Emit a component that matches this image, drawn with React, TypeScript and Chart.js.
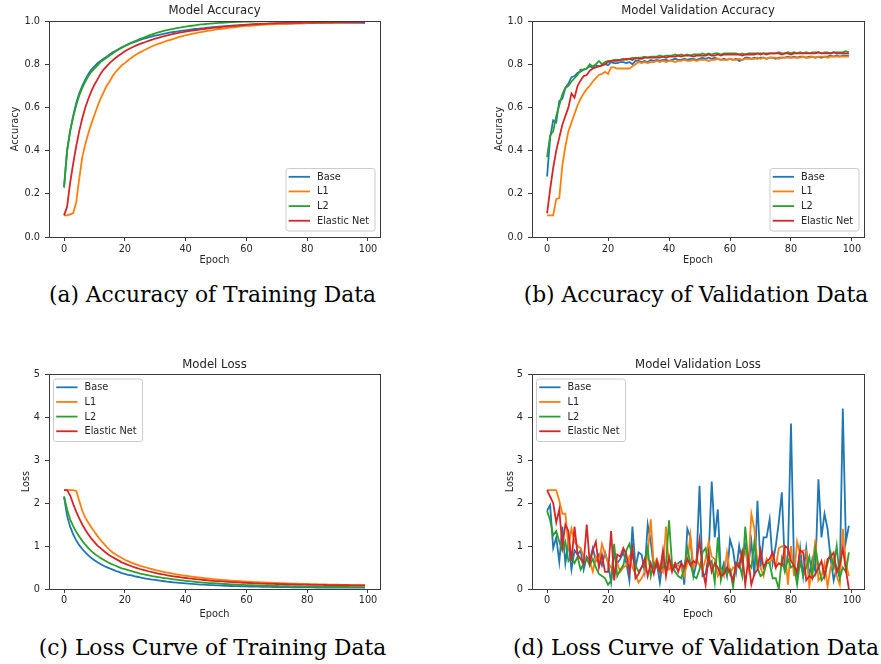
import React, { useEffect, useRef } from "react";
import { Chart, registerables } from "chart.js";

Chart.register(...registerables);

// ---------------- DATA ----------------
const epochs = Array.from({ length: 100 }, (_, i) => i);
const seriesNames = ["Base", "L1", "L2", "Elastic Net"];
const seriesColors = ["#1f77b4", "#ff7f0e", "#2ca02c", "#d62728"];
const xTicks = [0, 20, 40, 60, 80, 100];
const accTicks = [0, 0.2, 0.4, 0.6, 0.8, 1.0];
const lossTicks = [0, 1, 2, 3, 4, 5];
const xMin = -4.95;
const xMax = 103.95;

const trainAccBase = [
  0.23, 0.40, 0.49, 0.56, 0.62, 0.665, 0.70, 0.73, 0.755, 0.775,
  0.79, 0.805, 0.815, 0.825, 0.835, 0.845, 0.855, 0.862, 0.87, 0.878,
  0.885, 0.89, 0.897, 0.902, 0.907, 0.912, 0.917, 0.921, 0.925, 0.929,
  0.932, 0.935, 0.938, 0.941, 0.944, 0.947, 0.949, 0.951, 0.953, 0.955,
  0.957, 0.959, 0.961, 0.963, 0.964, 0.966, 0.967, 0.969, 0.970, 0.972,
  0.973, 0.974, 0.975, 0.976, 0.977, 0.978, 0.979, 0.980, 0.981, 0.982,
  0.983, 0.983, 0.984, 0.985, 0.985, 0.986, 0.986, 0.987, 0.987, 0.988,
  0.988, 0.988, 0.988, 0.987, 0.988, 0.988, 0.989, 0.989, 0.989, 0.989,
  0.990, 0.990, 0.990, 0.990, 0.990, 0.990, 0.991, 0.991, 0.991, 0.991,
  0.991, 0.991, 0.991, 0.991, 0.992, 0.992, 0.992, 0.992, 0.991, 0.990,
];
const trainAccL1 = [
  0.10, 0.10, 0.105, 0.11, 0.16, 0.27, 0.37, 0.43, 0.48, 0.525,
  0.565, 0.605, 0.64, 0.67, 0.70, 0.72, 0.745, 0.765, 0.78, 0.795,
  0.805, 0.817, 0.828, 0.838, 0.847, 0.855, 0.862, 0.869, 0.876, 0.883,
  0.889, 0.894, 0.899, 0.904, 0.909, 0.913, 0.917, 0.922, 0.926, 0.93,
  0.934, 0.937, 0.940, 0.943, 0.946, 0.949, 0.951, 0.954, 0.956, 0.958,
  0.961, 0.963, 0.964, 0.966, 0.968, 0.970, 0.971, 0.973, 0.974, 0.976,
  0.977, 0.978, 0.979, 0.980, 0.981, 0.982, 0.983, 0.984, 0.985, 0.985,
  0.986, 0.987, 0.987, 0.988, 0.988, 0.989, 0.989, 0.989, 0.990, 0.990,
  0.990, 0.991, 0.991, 0.991, 0.992, 0.992, 0.992, 0.992, 0.993, 0.993,
  0.993, 0.993, 0.993, 0.994, 0.994, 0.994, 0.994, 0.994, 0.995, 0.995,
];
const trainAccL2 = [
  0.23, 0.40, 0.49, 0.555, 0.61, 0.655, 0.69, 0.72, 0.745, 0.765,
  0.78, 0.795, 0.81, 0.82, 0.83, 0.84, 0.85, 0.86, 0.868, 0.876,
  0.884, 0.892, 0.899, 0.905, 0.911, 0.917, 0.922, 0.928, 0.933, 0.938,
  0.943, 0.947, 0.951, 0.955, 0.958, 0.961, 0.964, 0.967, 0.969, 0.972,
  0.974, 0.976, 0.978, 0.980, 0.982, 0.984, 0.985, 0.987, 0.988, 0.989,
  0.990, 0.991, 0.992, 0.993, 0.994, 0.995, 0.995, 0.996, 0.996, 0.997,
  0.997, 0.997, 0.997, 0.998, 0.998, 0.998, 0.998, 0.998, 0.998, 0.998,
  0.998, 0.998, 0.999, 0.999, 0.999, 0.999, 0.999, 0.999, 0.999, 0.999,
  0.999, 0.999, 0.999, 0.999, 0.999, 0.999, 0.999, 0.999, 0.999, 0.999,
  0.999, 0.999, 0.999, 0.999, 0.999, 0.999, 0.999, 0.999, 0.999, 0.999,
];
const trainAccEN = [
  0.10, 0.14, 0.25, 0.34, 0.42, 0.49, 0.55, 0.60, 0.64, 0.675,
  0.705, 0.73, 0.755, 0.775, 0.79, 0.805, 0.818, 0.83, 0.84, 0.85,
  0.86, 0.868, 0.875, 0.882, 0.888, 0.894, 0.899, 0.904, 0.909, 0.914,
  0.918, 0.922, 0.926, 0.93, 0.933, 0.937, 0.94, 0.943, 0.946, 0.948,
  0.951, 0.953, 0.955, 0.957, 0.959, 0.961, 0.963, 0.965, 0.967, 0.968,
  0.970, 0.971, 0.973, 0.974, 0.975, 0.977, 0.978, 0.979, 0.980, 0.981,
  0.982, 0.983, 0.984, 0.985, 0.986, 0.987, 0.987, 0.988, 0.989, 0.989,
  0.990, 0.990, 0.991, 0.991, 0.991, 0.992, 0.992, 0.992, 0.992, 0.993,
  0.993, 0.993, 0.993, 0.994, 0.994, 0.994, 0.994, 0.994, 0.994, 0.995,
  0.995, 0.995, 0.995, 0.995, 0.995, 0.995, 0.995, 0.995, 0.995, 0.995,
];

const valAccBase = [
  0.28, 0.46, 0.54, 0.53, 0.63, 0.64, 0.69, 0.71, 0.74, 0.745,
  0.76, 0.765, 0.775, 0.78, 0.79, 0.785, 0.795, 0.79, 0.795, 0.80,
  0.795, 0.81, 0.805, 0.805, 0.81, 0.81, 0.805, 0.81, 0.80, 0.815,
  0.815, 0.81, 0.815, 0.81, 0.82, 0.815, 0.82, 0.815, 0.82, 0.82,
  0.815, 0.82, 0.825, 0.82, 0.82, 0.825, 0.82, 0.825, 0.825, 0.82,
  0.825, 0.83, 0.825, 0.83, 0.825, 0.83, 0.825, 0.82, 0.825, 0.82,
  0.825, 0.82, 0.825, 0.815, 0.82, 0.83, 0.83, 0.825, 0.83, 0.825,
  0.83, 0.83, 0.825, 0.83, 0.83, 0.825, 0.83, 0.83, 0.83, 0.835,
  0.83, 0.835, 0.83, 0.835, 0.835, 0.83, 0.835, 0.835, 0.83, 0.835,
  0.83, 0.835, 0.835, 0.84, 0.835, 0.84, 0.835, 0.84, 0.84, 0.84,
];
const valAccL1 = [
  0.10, 0.10, 0.10, 0.175, 0.18, 0.33, 0.42, 0.49, 0.53, 0.57,
  0.61, 0.64, 0.665, 0.685, 0.70, 0.72, 0.735, 0.75, 0.755, 0.765,
  0.755, 0.785, 0.785, 0.78, 0.78, 0.78, 0.78, 0.78, 0.79, 0.80,
  0.81, 0.805, 0.81, 0.805, 0.81, 0.81, 0.815, 0.81, 0.815, 0.81,
  0.815, 0.815, 0.81, 0.815, 0.815, 0.82, 0.815, 0.815, 0.82, 0.815,
  0.82, 0.82, 0.82, 0.815, 0.82, 0.82, 0.825, 0.82, 0.82, 0.82,
  0.825, 0.82, 0.82, 0.825, 0.82, 0.825, 0.825, 0.825, 0.825, 0.83,
  0.825, 0.83, 0.825, 0.83, 0.83, 0.83, 0.825, 0.83, 0.83, 0.83,
  0.83, 0.83, 0.83, 0.83, 0.835, 0.83, 0.83, 0.835, 0.83, 0.835,
  0.835, 0.835, 0.83, 0.835, 0.835, 0.835, 0.835, 0.835, 0.835, 0.835,
];
const valAccL2 = [
  0.37, 0.47, 0.49, 0.56, 0.61, 0.66, 0.69, 0.70, 0.72, 0.735,
  0.75, 0.775, 0.775, 0.78, 0.80, 0.79, 0.80, 0.815, 0.80, 0.81,
  0.815, 0.815, 0.82, 0.82, 0.82, 0.825, 0.82, 0.825, 0.83, 0.825,
  0.83, 0.83, 0.835, 0.83, 0.835, 0.835, 0.835, 0.84, 0.835, 0.84,
  0.84, 0.84, 0.845, 0.84, 0.845, 0.84, 0.845, 0.84, 0.845, 0.845,
  0.845, 0.85, 0.845, 0.85, 0.845, 0.85, 0.85, 0.845, 0.85, 0.85,
  0.85, 0.85, 0.85, 0.845, 0.85, 0.845, 0.85, 0.85, 0.85, 0.85,
  0.85, 0.85, 0.85, 0.85, 0.85, 0.85, 0.855, 0.85, 0.85, 0.855,
  0.85, 0.855, 0.85, 0.855, 0.85, 0.855, 0.85, 0.855, 0.855, 0.855,
  0.85, 0.855, 0.855, 0.85, 0.855, 0.855, 0.855, 0.855, 0.86, 0.855,
];
const valAccEN = [
  0.11, 0.22, 0.32, 0.40, 0.46, 0.52, 0.56, 0.60, 0.665, 0.645,
  0.70, 0.725, 0.745, 0.75, 0.77, 0.78, 0.785, 0.79, 0.795, 0.80,
  0.81, 0.815, 0.815, 0.815, 0.82, 0.82, 0.825, 0.825, 0.82, 0.83,
  0.825, 0.825, 0.83, 0.83, 0.83, 0.83, 0.83, 0.83, 0.835, 0.83,
  0.835, 0.835, 0.835, 0.84, 0.835, 0.84, 0.84, 0.84, 0.835, 0.84,
  0.84, 0.84, 0.84, 0.845, 0.84, 0.84, 0.845, 0.84, 0.845, 0.845,
  0.845, 0.845, 0.845, 0.845, 0.84, 0.845, 0.845, 0.845, 0.845, 0.85,
  0.845, 0.85, 0.845, 0.85, 0.85, 0.85, 0.85, 0.845, 0.85, 0.85,
  0.845, 0.85, 0.85, 0.85, 0.85, 0.85, 0.85, 0.85, 0.85, 0.855,
  0.85, 0.85, 0.85, 0.85, 0.855, 0.85, 0.85, 0.85, 0.85, 0.85,
];

const trainLossBase = [
  2.15, 1.70, 1.45, 1.27, 1.13, 1.02, 0.93, 0.85, 0.78, 0.72,
  0.67, 0.62, 0.58, 0.54, 0.51, 0.48, 0.45, 0.42, 0.40, 0.37,
  0.35, 0.33, 0.32, 0.30, 0.285, 0.27, 0.255, 0.24, 0.23, 0.22,
  0.21, 0.20, 0.19, 0.18, 0.17, 0.163, 0.156, 0.149, 0.142, 0.136,
  0.13, 0.124, 0.119, 0.114, 0.109, 0.104, 0.10, 0.096, 0.092, 0.088,
  0.085, 0.082, 0.079, 0.076, 0.073, 0.07, 0.068, 0.066, 0.064, 0.062,
  0.06, 0.058, 0.056, 0.055, 0.053, 0.052, 0.05, 0.049, 0.048, 0.047,
  0.046, 0.045, 0.044, 0.043, 0.042, 0.041, 0.04, 0.039, 0.039, 0.038,
  0.037, 0.037, 0.036, 0.035, 0.035, 0.034, 0.034, 0.033, 0.033, 0.032,
  0.032, 0.032, 0.031, 0.031, 0.031, 0.030, 0.030, 0.030, 0.030, 0.030,
];
const trainLossL1 = [
  2.30, 2.30, 2.30, 2.30, 2.28, 2.05, 1.82, 1.66, 1.54, 1.43,
  1.33, 1.23, 1.14, 1.06, 0.98, 0.91, 0.85, 0.80, 0.76, 0.72,
  0.68, 0.65, 0.62, 0.59, 0.565, 0.54, 0.52, 0.50, 0.48, 0.46,
  0.44, 0.425, 0.41, 0.395, 0.38, 0.367, 0.354, 0.342, 0.33, 0.319,
  0.308, 0.298, 0.288, 0.279, 0.27, 0.262, 0.254, 0.246, 0.239, 0.232,
  0.225, 0.219, 0.213, 0.207, 0.201, 0.196, 0.191, 0.186, 0.181, 0.177,
  0.173, 0.169, 0.165, 0.161, 0.158, 0.154, 0.151, 0.148, 0.145, 0.142,
  0.139, 0.136, 0.134, 0.131, 0.129, 0.126, 0.124, 0.122, 0.12, 0.118,
  0.116, 0.114, 0.112, 0.11, 0.108, 0.107, 0.105, 0.103, 0.102, 0.10,
  0.099, 0.097, 0.096, 0.094, 0.093, 0.092, 0.09, 0.089, 0.088, 0.087,
];
const trainLossL2 = [
  2.15, 1.85, 1.62, 1.46, 1.33, 1.22, 1.12, 1.03, 0.95, 0.88,
  0.82, 0.77, 0.72, 0.68, 0.64, 0.60, 0.57, 0.54, 0.51, 0.48,
  0.46, 0.44, 0.42, 0.40, 0.38, 0.36, 0.345, 0.33, 0.315, 0.30,
  0.29, 0.278, 0.266, 0.255, 0.245, 0.235, 0.225, 0.216, 0.207, 0.199,
  0.191, 0.183, 0.176, 0.169, 0.162, 0.156, 0.15, 0.144, 0.139, 0.134,
  0.129, 0.124, 0.12, 0.116, 0.112, 0.108, 0.104, 0.101, 0.098, 0.095,
  0.092, 0.089, 0.087, 0.084, 0.082, 0.08, 0.078, 0.076, 0.074, 0.072,
  0.07, 0.068, 0.067, 0.065, 0.064, 0.062, 0.061, 0.06, 0.058, 0.057,
  0.056, 0.055, 0.054, 0.053, 0.052, 0.051, 0.05, 0.05, 0.049, 0.048,
  0.048, 0.047, 0.046, 0.046, 0.045, 0.045, 0.044, 0.044, 0.043, 0.043,
];
const trainLossEN = [
  2.30, 2.30, 2.18, 1.98, 1.80, 1.64, 1.50, 1.38, 1.27, 1.17,
  1.09, 1.01, 0.95, 0.89, 0.83, 0.78, 0.74, 0.70, 0.66, 0.62,
  0.59, 0.56, 0.535, 0.51, 0.487, 0.465, 0.445, 0.425, 0.407, 0.39,
  0.374, 0.359, 0.345, 0.332, 0.319, 0.307, 0.296, 0.285, 0.275, 0.265,
  0.256, 0.247, 0.239, 0.231, 0.223, 0.216, 0.209, 0.203, 0.197, 0.191,
  0.185, 0.18, 0.175, 0.17, 0.165, 0.161, 0.157, 0.153, 0.149, 0.145,
  0.142, 0.139, 0.136, 0.133, 0.13, 0.127, 0.125, 0.122, 0.12, 0.118,
  0.116, 0.114, 0.112, 0.11, 0.108, 0.107, 0.105, 0.104, 0.102, 0.101,
  0.099, 0.098, 0.097, 0.096, 0.095, 0.094, 0.093, 0.092, 0.091, 0.09,
  0.089, 0.088, 0.087, 0.087, 0.086, 0.085, 0.085, 0.084, 0.083, 0.083,
];

const valLossBase = [
  1.82, 1.95, 0.95, 1.2, 0.63, 1.45, 0.6, 1.1, 0.45, 0.9,
  0.8, 0.9, 0.45, 0.75, 0.65, 0.95, 0.65, 0.8, 0.55, 0.85,
  0.6, 0.15, 0.8, 0.6, 0.7, 0.85, 0.6, 0.2, 1.45, 0.5,
  0.85, 0.8, 0.4, 1.5, 1.1, 0.5, 0.6, 0.15, 0.7, 0.45,
  0.7, 0.55, 0.5, 0.6, 0.65, 0.1, 1.4, 1.2, 0.3, 0.6,
  2.4, 0.3, 0.35, 0.8, 2.5, 1.2, 1.85, 0.35, 0.6, 0.3,
  1.15, 0.9, 0.4, 1.0, 0.6, 1.0, 0.55, 1.1, 0.3, 2.05,
  0.5, 1.2, 1.2, 1.62, 0.6, 1.0, 1.55, 2.25, 0.5, 0.8,
  3.85, 0.5, 0.3, 0.95, 0.3, 0.95, 0.3, 0.7, 0.4, 2.55,
  1.2, 1.75, 1.4, 0.7, 0.2, 0.5, 0.25, 4.2, 1.1, 1.47,
];
const valLossL1 = [
  2.3, 2.3, 2.3, 2.3, 2.05, 1.75, 1.75, 1.0, 1.4, 1.1,
  1.0, 0.95, 0.75, 0.7, 0.65, 0.4, 0.75, 0.6, 1.05, 0.8,
  0.6, 0.5, 0.4, 0.6, 0.4, 0.5, 0.55, 0.75, 0.5, 0.35,
  0.15, 0.25, 0.4, 0.8, 1.62, 0.55, 0.7, 0.5, 0.4, 1.45,
  0.45, 0.5, 0.6, 0.55, 0.5, 0.3, 0.6, 1.25, 0.5, 0.7,
  0.55, 0.45, 0.7, 1.1, 0.75, 0.7, 0.3, 0.45, 0.3, 0.85,
  0.35, 0.5, 0.5, 0.6, 0.9, 0.9, 0.5, 1.75, 1.4, 0.6,
  0.5, 0.3, 0.7, 0.6, 0.75, 0.5, 0.95, 1.0, 0.95, 0.1,
  1.0, 0.3, 1.1, 0.8, 0.9, 0.9, 0.05, 0.5, 1.15, 0.2,
  0.3, 0.6, 0.05, 0.5, 0.7, 0.3, 0.1, 1.4, 0.6, 0.3,
];
const valLossL2 = [
  1.82, 1.6, 1.25, 1.35, 1.1, 0.9, 1.1, 0.65, 0.75, 0.6,
  0.75, 0.45, 0.6, 0.7, 0.55, 0.7, 0.5, 0.35, 0.3, 0.25,
  0.1, 0.2, 1.05, 0.3, 0.45, 0.55, 0.9, 1.05, 0.75, 0.55,
  0.4, 0.5, 0.6, 0.95, 0.3, 0.6, 0.5, 0.45, 0.5, 0.6,
  1.6, 0.55, 0.4, 0.3, 0.25, 0.5, 0.95, 0.6, 0.3, 0.25,
  0.45, 0.85, 0.95, 0.55, 0.65, 0.15, 1.2, 0.2, 0.5, 0.35,
  0.45, 0.05, 0.6, 0.6, 0.3, 1.45, 0.6, 0.5, 1.1, 0.5,
  0.3, 0.35, 0.6, 0.6, 0.25, 0.25, 0.0, 0.7, 0.4, 0.7,
  0.5, 0.55, 0.1, 0.65, 0.3, 0.5, 0.75, 0.3, 0.95, 0.55,
  0.2, 0.3, 0.6, 0.85, 0.5, 1.0, 0.25, 0.5, 0.4, 0.85,
];
const valLossEN = [
  2.3, 2.15, 2.0, 1.55, 1.85, 1.0, 1.5, 1.35, 0.65, 1.45,
  0.8, 0.7, 0.6, 1.5, 0.6, 0.9, 1.1, 0.5, 0.8, 0.4,
  0.4, 1.35, 0.2, 0.8, 0.75, 0.95, 0.8, 0.4, 0.95, 0.25,
  0.35, 0.5, 0.7, 0.3, 0.6, 0.35, 0.65, 0.4, 0.9, 0.3,
  0.75, 0.4, 0.6, 0.4, 0.6, 0.5, 0.7, 0.55, 0.65, 0.6,
  1.15, 0.45, 0.1, 0.8, 0.4, 0.6, 0.5, 0.3, 0.35, 0.5,
  0.4, 0.2, 0.6, 0.5, 0.85, 0.1, 0.7, 0.1, 0.35, 0.45,
  0.9, 0.5, 0.65, 0.7, 0.85, 0.5, 0.6, 0.55, 1.0, 0.95,
  0.65, 0.55, 0.4, 0.9, 0.85, 0.2, 0.3, 0.25, 0.35, 0.5,
  0.65, 0.3, 0.7, 0.75, 0.85, 0.4, 0.55, 0.95, 0.45, 0.0,
];

// ---------------- STYLE / LAYOUT ----------------
const FONT = '"DejaVu Sans", sans-serif';
const TEXT = "#262626";
const AXIS = "#3a3a3a";

type Area = { left: number; right: number; top: number; bottom: number };
type PanelSpec = {
  left: number; top: number; width: number; height: number;
  area: Area;
  title: string; yLabel: string;
  series: number[][];
  yMin: number; yMax: number; yTicks: number[]; yDecimals: number;
  legend: "lr" | "ul";
  titlePad: [number, number];
  yTitlePad: number; xTitlePad: number; xTickPad: number;
};

const panels: PanelSpec[] = [
  {
    left: 0, top: 0, width: 440, height: 280,
    area: { left: 49, right: 380, top: 21, bottom: 237 },
    title: "Model Accuracy", yLabel: "Accuracy",
    series: [trainAccBase, trainAccL1, trainAccL2, trainAccEN],
    yMin: 0, yMax: 1, yTicks: accTicks, yDecimals: 1, legend: "lr",
    titlePad: [3.7, 3.26], yTitlePad: 9.9, xTitlePad: 13.3, xTickPad: 2.4,
  },
  {
    left: 440, top: 0, width: 441, height: 280,
    area: { left: 92, right: 424, top: 21, bottom: 237 },
    title: "Model Validation Accuracy", yLabel: "Accuracy",
    series: [valAccBase, valAccL1, valAccL2, valAccEN],
    yMin: 0, yMax: 1, yTicks: accTicks, yDecimals: 1, legend: "lr",
    titlePad: [3.7, 3.26], yTitlePad: 53.7, xTitlePad: 13.3, xTickPad: 2.4,
  },
  {
    left: 0, top: 350, width: 440, height: 280,
    area: { left: 49, right: 380, top: 24, bottom: 239 },
    title: "Model Loss", yLabel: "Loss",
    series: [trainLossBase, trainLossL1, trainLossL2, trainLossEN],
    yMin: 0, yMax: 5, yTicks: lossTicks, yDecimals: 0, legend: "ul",
    titlePad: [7.7, 2.26], yTitlePad: 21.0, xTitlePad: 10.0, xTickPad: 1.4,
  },
  {
    left: 440, top: 350, width: 441, height: 280,
    area: { left: 92, right: 424, top: 24, bottom: 239 },
    title: "Model Validation Loss", yLabel: "Loss",
    series: [valLossBase, valLossL1, valLossL2, valLossEN],
    yMin: 0, yMax: 5, yTicks: lossTicks, yDecimals: 0, legend: "ul",
    titlePad: [7.7, 2.26], yTitlePad: 65.0, xTitlePad: 10.0, xTickPad: 1.4,
  },
];

const captions = [
  { text: "(a) Accuracy of Training Data", cx: 212.5, cy: 295 },
  { text: "(b) Accuracy of Validation Data", cx: 696, cy: 295 },
  { text: "(c) Loss Curve of Training Data", cx: 212.5, cy: 648 },
  { text: "(d) Loss Curve of Validation Data", cx: 696, cy: 648 },
];

const align = (p: number) => Math.round(p - 0.5) + 0.5;

function frameLegendPlugin(pos: "lr" | "ul") {
  return {
    id: "frameLegend",
    afterDraw(chart: any) {
      const { ctx, chartArea: a } = chart;
      ctx.save();
      // frame (four spines)
      ctx.strokeStyle = AXIS;
      ctx.lineWidth = 1;
      const l = align(a.left), r = align(a.right), t = align(a.top), b = align(a.bottom);
      ctx.strokeRect(l, t, r - l, b - t);

      // legend
      const bw = 89, bh = 62.5;
      const bx = pos === "lr" ? a.right - 5 - bw : a.left + 4.5;
      const by = pos === "lr" ? a.bottom - 6 - bh : a.top + 5;
      ctx.beginPath();
      if ((ctx as any).roundRect) (ctx as any).roundRect(bx, by, bw, bh, 2.5);
      else ctx.rect(bx, by, bw, bh);
      ctx.fillStyle = "rgba(255,255,255,0.8)";
      ctx.fill();
      ctx.strokeStyle = "#cccccc";
      ctx.lineWidth = 1;
      ctx.stroke();
      chart.data.datasets.forEach((ds: any, i: number) => {
        const y = by + 8.3 + i * 14.65;
        ctx.beginPath();
        ctx.strokeStyle = ds.borderColor;
        ctx.lineWidth = 1.8;
        ctx.moveTo(bx + 2.7, y);
        ctx.lineTo(bx + 24, y);
        ctx.stroke();
        ctx.fillStyle = TEXT;
        ctx.font = `9.75px ${FONT}`;
        ctx.textBaseline = "middle";
        ctx.textAlign = "left";
        ctx.fillText(ds.label, bx + 31, y + 0.5);
      });
      ctx.restore();
    },
  };
}

function Panel({ p }: { p: PanelSpec }) {
  const ref = useRef<HTMLCanvasElement | null>(null);
  useEffect(() => {
    if (!ref.current) return;
    const tickFont = { family: FONT, size: 9.75, lineHeight: 1.2 };
    const gridOpts = {
      display: true,
      drawOnChartArea: false,
      drawTicks: true,
      tickLength: 4,
      color: AXIS,
      lineWidth: 1,
    };
    const chart = new Chart(ref.current, {
      type: "line",
      data: {
        datasets: seriesNames.map((name, i) => ({
          label: name,
          data: p.series[i].map((y, j) => ({ x: epochs[j], y })),
          borderColor: seriesColors[i],
          backgroundColor: seriesColors[i],
          borderWidth: 1.8,
          pointRadius: 0,
          tension: 0,
          fill: false,
          order: 3 - i,
        })),
      },
      options: {
        responsive: false,
        animation: false,
        devicePixelRatio: 1,
        events: [],
        layout: {
          padding: { left: 0, top: 0, bottom: 0, right: p.width - p.area.right },
        },
        plugins: {
          legend: { display: false },
          tooltip: { enabled: false },
          title: {
            display: true,
            fullSize: false,
            text: p.title,
            color: TEXT,
            font: { family: FONT, size: 11.7, weight: "normal", lineHeight: 1.2 },
            padding: { top: p.titlePad[0], bottom: p.titlePad[1] },
          },
        },
        scales: {
          x: {
            type: "linear",
            min: xMin,
            max: xMax,
            afterBuildTicks: (s: any) => {
              s.ticks = xTicks.map((v) => ({ value: v }));
            },
            afterFit: (s: any) => {
              s.height = p.height - p.area.bottom;
            },
            grid: gridOpts,
            border: { display: false },
            ticks: {
              color: TEXT,
              font: tickFont,
              padding: p.xTickPad,
              maxRotation: 0,
              autoSkip: false,
              callback: (v: any) => String(v),
            },
            title: {
              display: true,
              text: "Epoch",
              color: TEXT,
              font: tickFont,
              padding: { top: 0, bottom: p.xTitlePad },
            },
          },
          y: {
            type: "linear",
            min: p.yMin,
            max: p.yMax,
            afterBuildTicks: (s: any) => {
              s.ticks = p.yTicks.map((v) => ({ value: v }));
            },
            afterFit: (s: any) => {
              s.width = p.area.left;
            },
            grid: gridOpts,
            border: { display: false },
            ticks: {
              color: TEXT,
              font: tickFont,
              padding: 5,
              autoSkip: false,
              callback: (v: any) => Number(v).toFixed(p.yDecimals),
            },
            title: {
              display: true,
              text: p.yLabel,
              color: TEXT,
              font: tickFont,
              padding: { top: p.yTitlePad, bottom: 0 },
            },
          },
        },
      } as any,
      plugins: [frameLegendPlugin(p.legend)],
    });
    return () => chart.destroy();
  }, [p]);
  return (
    <canvas
      ref={ref}
      width={p.width}
      height={p.height}
      style={{
        position: "absolute",
        left: p.left,
        top: p.top,
        width: p.width,
        height: p.height,
        display: "block",
      }}
    />
  );
}

export default function App() {
  return (
    <div
      style={{
        position: "absolute",
        left: 0,
        top: 0,
        width: 881,
        height: 664,
        background: "#ffffff",
        overflow: "hidden",
      }}
    >
      {panels.map((p, i) => (
        <Panel key={i} p={p} />
      ))}
      {captions.map((c, i) => (
        <div
          key={"c" + i}
          style={{
            position: "absolute",
            left: c.cx - 220,
            width: 440,
            top: c.cy - 12,
            height: 24,
            lineHeight: "24px",
            textAlign: "center",
            fontFamily: '"DejaVu Serif", serif',
            fontSize: 21.8,
            color: "#000",
            whiteSpace: "nowrap",
          }}
        >
          {c.text}
        </div>
      ))}
    </div>
  );
}
